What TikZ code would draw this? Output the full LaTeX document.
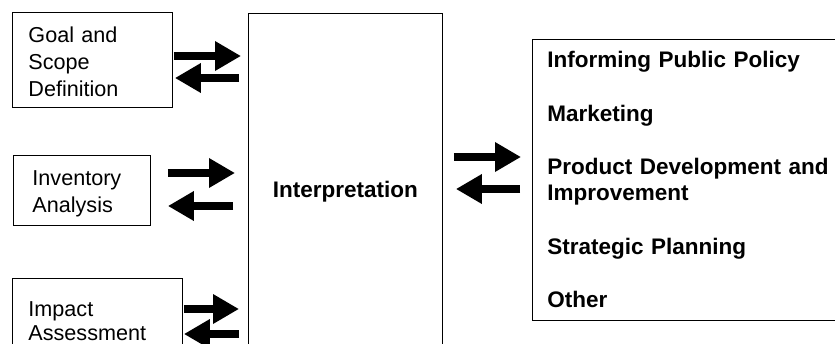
\documentclass[tikz,border=0pt]{standalone}
\usepackage{fontspec}
\setmainfont{Liberation Sans}
\usetikzlibrary{arrows.meta}
\begin{document}
\begin{tikzpicture}[x=1pt,y=-1pt,
  box/.style={draw,line width=0.9pt,anchor=north west,inner xsep=0pt,inner ysep=0pt,
    align=left,font=\fontsize{21.6}{27}\selectfont},
  fat/.style={line width=7.5pt,-{Triangle[length=26pt,width=28pt]}},
]
\useasboundingbox (0,0) rectangle (835,343);
\fill[white] (0,0) rectangle (835,343);
\clip (0,0) rectangle (835,343);

\node[box,minimum width=160pt,minimum height=95pt,text width=128pt] (goal) at (12,12)
  {\rule{0pt}{19pt}Goal and\\Scope\\Definition};
\node[box,minimum width=137pt,minimum height=70pt,text width=99pt] (inv) at (13,155)
  {\rule{0pt}{21.6pt}Inventory\\Analysis};
\node[box,minimum width=170pt,minimum height=85pt,text width=138pt,
  font=\fontsize{21.6}{24}\selectfont] (impact) at (12,278)
  {Impact\\Assessment};
\node[draw,line width=0.9pt,anchor=north west,inner sep=0pt,minimum width=194pt,
  minimum height=357pt,font=\bfseries\fontsize{22.5}{26}\selectfont] (interp) at (248,13)
  {Interpretation};
\node[box,minimum width=320pt,minimum height=281pt,text width=290pt,
  font=\bfseries\fontsize{22.5}{26}\selectfont] (apps) at (532,39)
  {Informing Public Policy\\[27.5pt]
   Marketing\\[27.5pt]
   Product Development and\\Improvement\\[27.5pt]
   Strategic Planning\\[27.5pt]
   Other};

\draw[fat,shorten <=1pt,shorten >=7pt] (goal.east |- 0,56) -- (interp.west |- 0,56);
\draw[fat,shorten <=9pt,shorten >=2pt] (interp.west |- 0,78) -- (goal.east |- 0,78);
\draw[fat,shorten <=17pt,shorten >=13pt] (inv.east |- 0,173) -- (interp.west |- 0,173);
\draw[fat,shorten <=15pt,shorten >=17pt] (interp.west |- 0,206) -- (inv.east |- 0,206);
\draw[fat,shorten <=1pt,shorten >=9pt] (impact.east |- 0,309) -- (interp.west |- 0,309);
\draw[fat,shorten <=9pt,shorten >=1pt] (interp.west |- 0,334) -- (impact.east |- 0,334);
\draw[fat,shorten <=11pt,shorten >=11pt] (interp.east |- 0,157) -- (apps.west |- 0,157);
\draw[fat,shorten <=12pt,shorten >=13pt] (apps.west |- 0,189) -- (interp.east |- 0,189);
\end{tikzpicture}
\end{document}
